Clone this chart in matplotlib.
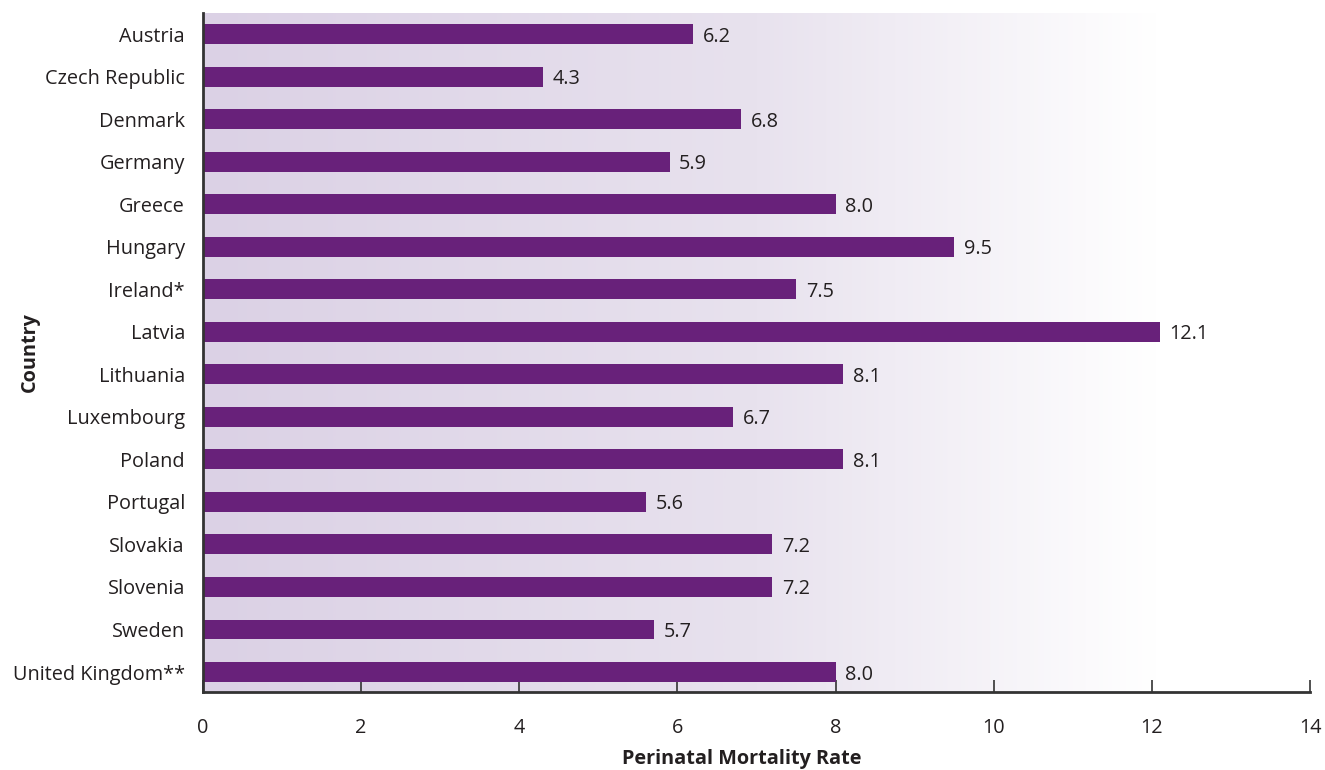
import numpy as np
import matplotlib
matplotlib.use('Agg')
from matplotlib import pyplot as plt
from matplotlib.colors import LinearSegmentedColormap

countries = ['Austria', 'Czech Republic', 'Denmark', 'Germany', 'Greece',
             'Hungary', 'Ireland*', 'Latvia', 'Lithuania', 'Luxembourg',
             'Poland', 'Portugal', 'Slovakia', 'Slovenia', 'Sweden',
             'United Kingdom**']
rates = [6.2, 4.3, 6.8, 5.9, 8.0, 9.5, 7.5, 12.1, 8.1, 6.7, 8.1, 5.6,
         7.2, 7.2, 5.7, 8.0]
x_ticks = [0, 2, 4, 6, 8, 10, 12, 14]

plt.rcParams['font.family'] = ['Open Sans', 'DejaVu Sans']
text_color = '#231f20'
bar_color = '#68217a'
fs = 14.3

fig = plt.figure(figsize=(13.25, 7.7), dpi=100)
ax = fig.add_axes([0.1532, 0.1013, 0.8355, 0.8817])

# background gradient: light purple on the left fading to white
cmap = LinearSegmentedColormap.from_list(
    'bg', [(0.0, '#dbd1e5'), (0.5, '#e8e2ee'), (0.86, '#ffffff'), (1.0, '#ffffff')])
grad = np.linspace(0, 1, 512).reshape(1, -1)
ax.imshow(grad, cmap=cmap, aspect='auto', extent=(0, 14, 15.47, -0.5),
          zorder=0)

y = np.arange(len(countries))
bars = ax.barh(y, rates, height=0.47, color=bar_color, zorder=2)
labels = ax.bar_label(bars, labels=[f'{v:.1f}' for v in rates], padding=7,
                      fontsize=fs, color=text_color)
for t in labels:
    t.set_va('center_baseline')

ax.set_xlim(0, 14)
ax.set_ylim(15.47, -0.5)
ax.set_yticks(y)
ax.set_yticklabels(countries, fontsize=fs, color=text_color)
ax.set_xticks(x_ticks)
ax.set_xticklabels([str(t) for t in x_ticks], fontsize=fs, color=text_color)

ax.tick_params(axis='y', length=0, pad=13)
ax.tick_params(axis='x', direction='in', length=9, width=1.2,
               color='#333333', pad=19)

for side in ('top', 'right'):
    ax.spines[side].set_visible(False)
for side in ('left', 'bottom'):
    ax.spines[side].set_linewidth(2)
    ax.spines[side].set_color('#333333')
    ax.spines[side].set_zorder(3)

ax.set_xlabel('Perinatal Mortality Rate', fontsize=fs, fontweight='bold',
              color=text_color)
ax.xaxis.set_label_coords(0.487, -0.084)
ax.set_ylabel('Country', fontsize=fs, fontweight='bold', color=text_color)
ax.yaxis.set_label_coords(-0.147, 0.5)

fig.savefig('out.png', dpi=100)
